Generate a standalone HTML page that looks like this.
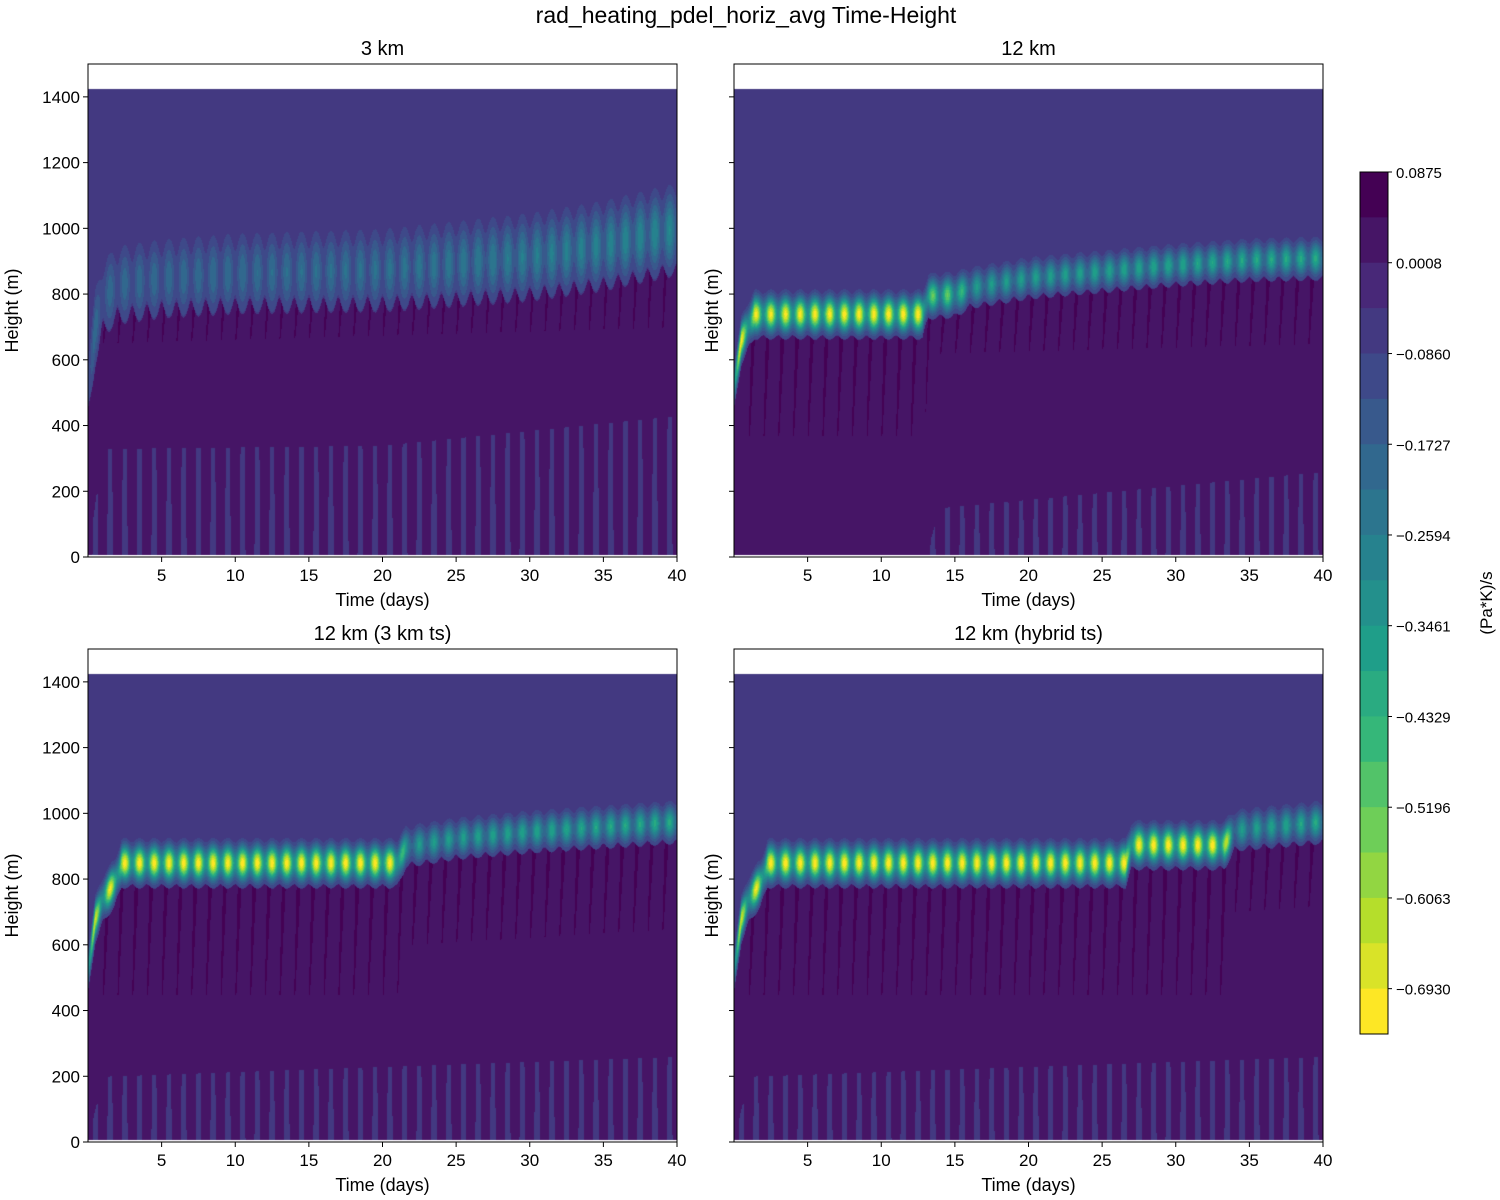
<!DOCTYPE html>
<html><head><meta charset="utf-8"><style>
body{margin:0;background:#fff;width:1500px;height:1200px;overflow:hidden;font-family:"Liberation Sans",sans-serif}
canvas{position:absolute}
svg{position:absolute;left:0;top:0}
</style></head><body>
<canvas id="c0" style="left:88px;top:64px" width="589" height="493"></canvas>
<canvas id="c1" style="left:734px;top:64px" width="589" height="493"></canvas>
<canvas id="c2" style="left:88px;top:649px" width="589" height="493"></canvas>
<canvas id="c3" style="left:734px;top:649px" width="589" height="493"></canvas>
<svg id="s" width="1500" height="1200"></svg>
<script>
// ---- data ----
const panelTitles=["3 km","12 km","12 km (3 km ts)","12 km (hybrid ts)"];
const levelTop=0.0875, levelStep=0.04336, nBands=19;
const cbTicks=[0.0875,0.0008,-0.0860,-0.1727,-0.2594,-0.3461,-0.4329,-0.5196,-0.6063,-0.6930];
const xTicks=[5,10,15,20,25,30,35,40];
const yTicks=[0,200,400,600,800,1000,1200,1400];
// inversion (cooling layer) height vs day, per panel
const ziDays=[
 [0,0.5,1,2,5,10,20,30,35,40],
 [0,0.5,1,1.4,12.8,13.2,15,16,20,25,30,35,40],
 [0,0.5,1,1.8,2.3,21,21.6,25,30,40],
 [0,0.5,1,1.8,2.3,26.6,27,33.3,34,40]];
const ziVals=[
 [520,700,790,830,850,865,875,915,950,1000],
 [520,660,710,740,740,795,800,820,850,870,890,905,910],
 [520,680,740,790,850,850,900,925,945,975],
 [520,680,740,790,850,850,905,905,950,975]];
const ampDays=[[0,20,30,40],[0,12.8,13.2,15,16,40],[0,2,21,21.6,40],[0,2,33.3,34,40]];
const ampVals=[[0.17,0.2,0.24,0.28],[0.68,0.7,0.5,0.5,0.33,0.38],[0.6,0.7,0.7,0.33,0.38],[0.6,0.7,0.7,0.33,0.38]];
const layerWidth=[110,48,48,48];
// lower limit of dark daily streaks below layer
const streakDays=[[0,40],[0,12.8,13.5,40],[0,21,21.6,40],[0,33.3,34,40]];
const streakVals=[[650,700],[370,370,620,650],[450,450,600,650],[450,450,700,720]];
// top of weak near-surface streaks
const sfcDays=[[0,1,20,40],[0,13,14,40],[0,1,40],[0,1,40]];
const sfcVals=[[0,330,340,430],[0,0,150,260],[0,200,260],[0,200,260]];

const vir=["#440154","#482878","#3e4989","#31688e","#26828e","#1f9e89","#35b779","#6ece58","#b5de2b","#fde725"];
function hex(h){return [1,3,5].map(i=>parseInt(h.substr(i,2),16));}
const virRGB=vir.map(hex);
function viridis(t){t=Math.max(0,Math.min(1,t));const f=t*9,i=Math.min(8,Math.floor(f)),r=f-i;
 return virRGB[i].map((c,k)=>Math.round(c+(virRGB[i+1][k]-c)*r));}
const bandCols=[];for(let k=0;k<nBands;k++)bandCols.push(viridis(k/(nBands-1)));
function interp(xs,ys,x){if(x<=xs[0])return ys[0];for(let i=1;i<xs.length;i++)if(x<=xs[i])return ys[i-1]+(ys[i]-ys[i-1])*(x-xs[i-1])/(xs[i]-xs[i-1]);return ys[ys.length-1];}

const W=589,H=493,hMax=1500,tMax=40;
const xScale=t=>t/tMax*W, yScale=h=>H-h/hMax*H;
function field(p,t,h){
 if(h>1425)return null;
 if(h<8)return null;
 const zi=interp(ziDays[p],ziVals[p],t), amp=interp(ampDays[p],ampVals[p],t), w=layerWidth[p];
 const ph=t-Math.floor(t);
 let v = h>zi+w*0.6 ? -0.06 : 0.02;
 const sfc=interp(sfcDays[p],sfcVals[p],t);
 if(h<sfc && Math.abs(ph-0.5)<0.14+0.06*(1-h/Math.max(sfc,1))) v=-0.05;
 const sd=interp(streakDays[p],streakVals[p],t);
 if(t>0.8 && h<zi-w*0.7 && h>sd){const fr=(h-sd)/(zi-sd);const q=((t-0.2*fr)%1+1)%1;if(q<0.08+0.22*fr)v=0.07;}
 const m=0.72+0.28*Math.cos(2*Math.PI*(t-0.5));
 const g=Math.exp(-Math.pow((h-zi)/w,2));
 const c=-amp*m*g;
 if(c<-0.05) v=Math.min(v,-0.03+c);
 return v;
}
for(let p=0;p<4;p++){
 const cv=document.getElementById('c'+p),ctx=cv.getContext('2d');
 const img=ctx.createImageData(W,H);
 for(let y=0;y<H;y++){const h=(H-y)/H*hMax;
  for(let x=0;x<W;x++){const t=(x+0.5)/W*tMax;const v=field(p,t,h);const o=(y*W+x)*4;
   if(v===null){img.data[o]=255;img.data[o+1]=255;img.data[o+2]=255;img.data[o+3]=255;continue;}
   let k=Math.floor((levelTop-v)/levelStep);k=Math.max(0,Math.min(nBands-1,k));
   const c=bandCols[k];img.data[o]=c[0];img.data[o+1]=c[1];img.data[o+2]=c[2];img.data[o+3]=255;}}
 ctx.putImageData(img,0,0);
}
// ---- axes ----
const s=document.getElementById('s');const NS="http://www.w3.org/2000/svg";
function el(tag,attrs,txt){const e=document.createElementNS(NS,tag);for(const k in attrs)e.setAttribute(k,attrs[k]);if(txt!==undefined)e.textContent=txt;s.appendChild(e);return e;}
const t0=el('text',{x:746,y:23,'font-size':23,'text-anchor':'middle'},'rad_heating_pdel_horiz_avg Time-Height');


const origins=[[88,64],[734,64],[88,649],[734,649]];
origins.forEach(([ox,oy],p)=>{
 const r=el('rect',{x:ox,y:oy,width:W,height:H,fill:'none',stroke:'#000','stroke-width':1});
 
 
 const tt=el('text',{x:ox+W/2,y:oy-9,'font-size':20,'text-anchor':'middle'},panelTitles[p]);
 
 
 xTicks.forEach(v=>{const x=ox+xScale(v);el('line',{x1:x,x2:x,y1:oy+H,y2:oy+H+5,stroke:'#000'});
  const l=el('text',{x:x,y:oy+H+24,'font-size':17,'text-anchor':'middle'},v);
  
  });
 const xl=el('text',{x:ox+W/2,y:oy+H+49,'font-size':18,'text-anchor':'middle'},'Time (days)');
 
 
 yTicks.forEach(v=>{const y=oy+yScale(v);el('line',{x1:ox-5,x2:ox,y1:y,y2:y,stroke:'#000'});
  if(p%2===0){const l=el('text',{x:ox-8,y:y+6,'font-size':17,'text-anchor':'end'},v);
   
   }});
 const lx=p%2===0?ox-70:ox-16;
 const yl=el('text',{x:0,y:0,'font-size':18,'text-anchor':'middle',transform:`translate(${lx},${oy+H/2}) rotate(-90)`},'Height (m)');
 
 
});
// colorbar
const cbX=1360,cbY=172,cbW=28,cbH=862,bh=cbH/nBands;
bandCols.forEach((c,k)=>{const r=el('rect',{x:cbX,y:cbY+k*bh,width:cbW,height:bh+0.5,fill:`rgb(${c})`});
 
 });
el('rect',{x:cbX,y:cbY,width:cbW,height:cbH,fill:'none',stroke:'#000'});
cbTicks.forEach(v=>{const y=cbY+(levelTop-v)/levelStep*bh;el('line',{x1:cbX+cbW,x2:cbX+cbW+4,y1:y,y2:y,stroke:'#000'});
 const l=el('text',{x:cbX+cbW+8,y:y+6,'font-size':15},(v<0?'\u2212':'')+Math.abs(v).toFixed(4));
 
 });
const cl=el('text',{x:0,y:0,'font-size':17,'text-anchor':'middle',transform:`translate(1492,603) rotate(-90)`},'(Pa*K)/s');


</script>
</body></html>
